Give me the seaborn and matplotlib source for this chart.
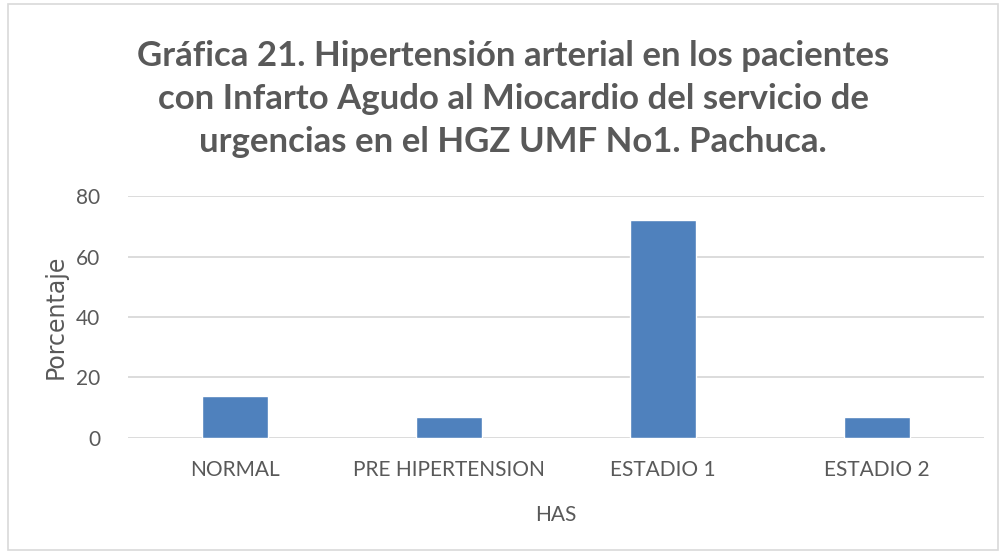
import matplotlib
matplotlib.use("Agg")
import matplotlib.pyplot as plt
import seaborn as sns
import pandas as pd
from matplotlib.patches import Rectangle

# data
categorias = ["NORMAL", "PRE HIPERTENSION", "ESTADIO 1", "ESTADIO 2"]
porcentajes = [13.8, 6.9, 72.0, 6.9]
ticks_y = [0, 20, 40, 60, 80]

titulo = ("Gráfica 21. Hipertensión arterial en los pacientes\n"
          "con Infarto Agudo al Miocardio del servicio de\n"
          "urgencias en el HGZ UMF No1. Pachuca.")

df = pd.DataFrame({"HAS": categorias, "Porcentaje": porcentajes})

sns.set_style("white")
plt.rcParams["font.family"] = ["Lato", "DejaVu Sans"]
gris = "#595959"

fig = plt.figure(figsize=(10.02, 5.54), dpi=100)
ax = fig.add_axes([0.1277, 0.2094, 0.8543, 0.4368])

sns.barplot(data=df, x="HAS", y="Porcentaje", color="#4f81bd", width=0.31,
            saturation=1, ax=ax, zorder=3)

ax.set_ylim(0, 80)
ax.set_xlim(-0.5, 3.5)
ax.set_yticks(ticks_y)
ax.yaxis.grid(True, color="#d9d9d9", linewidth=1.3, zorder=0)
ax.set_axisbelow(True)
for s in ax.spines.values():
    s.set_visible(False)
ax.tick_params(axis="both", length=0, labelsize=15, labelcolor=gris)
ax.tick_params(axis="x", pad=16)
ax.tick_params(axis="y", pad=20)

ax.set_xlabel("HAS", fontsize=15, color=gris, labelpad=18)
ax.set_ylabel("Porcentaje", fontsize=17, color=gris, labelpad=6,
              family=["DejaVu Sans"])

fig.text(0.512, 0.927, titulo, ha="center", va="top", fontsize=25,
         fontweight="bold", color=gris, linespacing=1.42)

fig.patches.append(Rectangle((0.008, 0.008), 0.988, 0.984, transform=fig.transFigure,
                             fill=False, edgecolor="#d9d9d9", linewidth=1.2))

fig.savefig("out.png", dpi=100)
